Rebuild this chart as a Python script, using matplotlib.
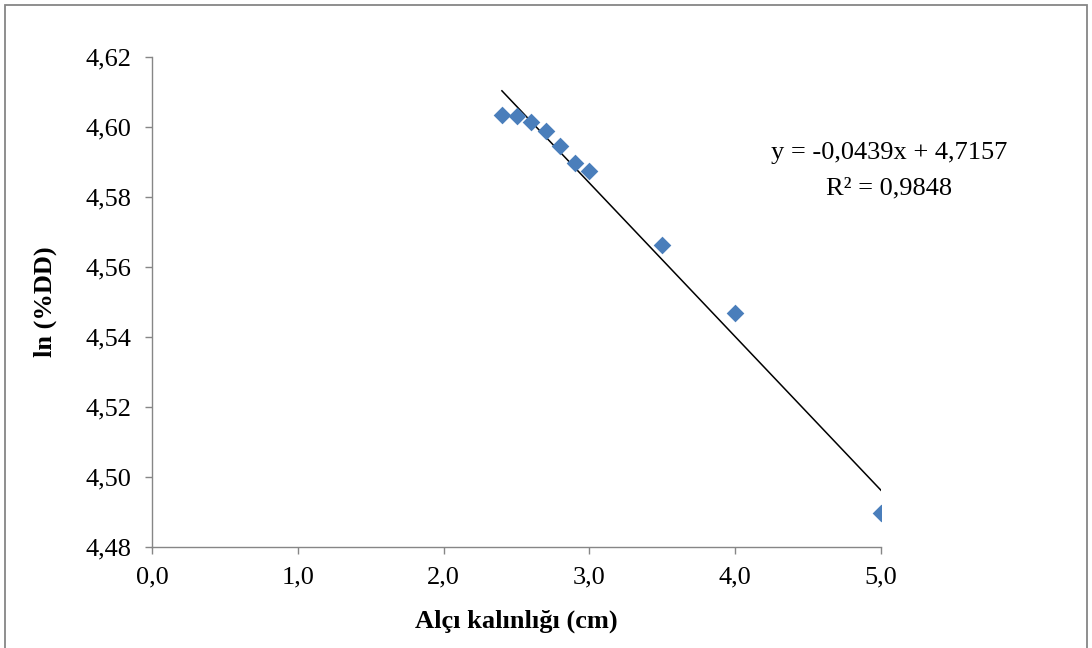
import matplotlib.pyplot as plt
from matplotlib.ticker import FuncFormatter, MultipleLocator
from matplotlib.patches import Rectangle

plt.rcParams['font.family'] = ['Liberation Serif', 'DejaVu Serif']

# Alçı kalınlığı (cm) ve ln(%DD) değerleri
kalinlik = [2.4, 2.5, 2.6, 2.7, 2.8, 2.9, 3.0, 3.5, 4.0, 5.0]
ln_dd = [4.6034, 4.6031, 4.6014, 4.5990, 4.5945, 4.5898, 4.5874, 4.5662, 4.5470, 4.4896]

# Doğrusal eğilim çizgisi katsayıları
egim = -0.0439
kesisim = 4.7157
r_kare = 0.9848


def virgul(hane):
    return FuncFormatter(lambda v, p: f'{v:.{hane}f}'.replace('.', ','))


fig = plt.figure(figsize=(10.92, 6.48), dpi=100)
ax = fig.add_axes([152 / 1092, 101 / 648, 729 / 1092, 490 / 648])

ax.scatter(kalinlik, ln_dd, marker='D', s=9 ** 2, color='#4a7ebb', zorder=3,
           linewidths=0)

x_trend = [min(kalinlik), max(kalinlik)]
y_trend = [egim * x + kesisim for x in x_trend]
ax.plot(x_trend, y_trend, color='black', lw=1.1, zorder=2)

ax.set_xlim(0, 5)
ax.set_ylim(4.48, 4.62)
ax.xaxis.set_major_locator(MultipleLocator(1.0))
ax.yaxis.set_major_locator(MultipleLocator(0.02))
ax.xaxis.set_major_formatter(virgul(1))
ax.yaxis.set_major_formatter(virgul(2))

for s in ['top', 'right']:
    ax.spines[s].set_visible(False)
for s in ['left', 'bottom']:
    ax.spines[s].set_color('#868686')
    ax.spines[s].set_linewidth(1.0)
ax.tick_params(axis='both', colors='#868686', labelcolor='black', labelsize=19,
               length=5, width=1.0, direction='out')
ax.tick_params(axis='y', pad=10)
ax.tick_params(axis='x', pad=9)

ax.set_xlabel('Alçı kalınlığı (cm)', fontsize=19, fontweight='bold', labelpad=15)
ax.set_ylabel('ln (%DD)', fontsize=19, fontweight='bold', labelpad=20)

esitlik = f'y = {egim:.4f}x + {kesisim:.4f}'.replace('.', ',')
fig.text(889 / 1092, 1 - 153 / 648, esitlik, ha='center', va='center', fontsize=19)
fig.text(889 / 1092, 1 - 188 / 648, f'R² = {r_kare:.4f}'.replace('.', ','),
         ha='center', va='center', fontsize=19)

# Grafik alanının çerçevesi
fig.patches.append(Rectangle((5 / 1092, -0.01), 1082 / 1092, 1 - 5 / 648 + 0.01,
                             transform=fig.transFigure, fill=False,
                             edgecolor='#868686', lw=1.3))

fig.savefig('out.png', dpi=100)
